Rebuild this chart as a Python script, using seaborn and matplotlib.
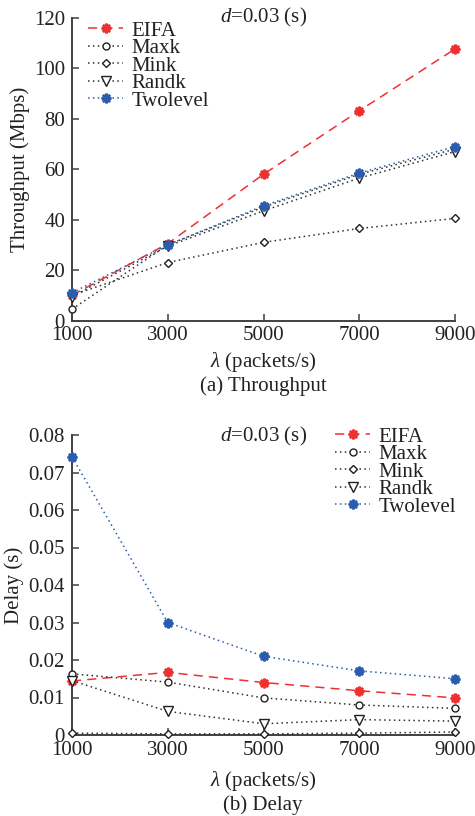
import matplotlib
matplotlib.use("Agg")
import matplotlib.pyplot as plt
import seaborn as sns
import pandas as pd

sns.set_theme(style="ticks")
plt.rcParams['font.family'] = ['Liberation Serif', 'DejaVu Serif']
plt.rcParams['mathtext.fontset'] = 'custom'
plt.rcParams['mathtext.rm'] = 'Liberation Serif'
plt.rcParams['mathtext.it'] = 'Liberation Serif:italic'

lam = [1000, 3000, 5000, 7000, 9000]
series = ["EIFA", "Maxk", "Mink", "Randk", "Twolevel"]

thr_eifa = [10, 30.5, 58, 83.2, 107.7]
thr_maxk = [4.5, 30, 45, 58, 68]
thr_mink = [10, 23, 31, 36.5, 40.5]
thr_randk = [9.5, 29.5, 43.5, 56.5, 67]
thr_twolevel = [11, 30, 45.5, 58.5, 69]

del_eifa = [0.0144, 0.0167, 0.0140, 0.0118, 0.0099]
del_maxk = [0.0163, 0.0141, 0.0099, 0.0080, 0.0071]
del_mink = [0.0005, 0.0003, 0.0003, 0.0005, 0.0008]
del_randk = [0.0145, 0.0063, 0.0030, 0.0041, 0.0037]
del_twolevel = [0.0742, 0.0300, 0.0210, 0.0171, 0.0150]

ast = (8, 2, 0)
styles = {
    "EIFA": dict(color="#f03030", ls=(0, (6, 4)), marker=ast, mfc="#f03030", mec="#f03030", ms=7, mew=1.8),
    "Maxk": dict(color="#303030", ls=(0, (1, 2.2)), marker="o", mfc="white", mec="#202020", ms=5, mew=1.0),
    "Mink": dict(color="#303030", ls=(0, (1, 2.2)), marker="D", mfc="white", mec="#202020", ms=4.5, mew=1.0),
    "Randk": dict(color="#303030", ls=(0, (1, 2.2)), marker="v", mfc="white", mec="#202020", ms=6.5, mew=1.0),
    "Twolevel": dict(color="#2a5db0", ls=(0, (1, 2.2)), marker=ast, mfc="#2a5db0", mec="#2a5db0", ms=7, mew=1.8),
}

thr = {"EIFA": thr_eifa, "Maxk": thr_maxk, "Mink": thr_mink, "Randk": thr_randk, "Twolevel": thr_twolevel}
dly = {"EIFA": del_eifa, "Maxk": del_maxk, "Mink": del_mink, "Randk": del_randk, "Twolevel": del_twolevel}

W, H = 475, 816
fig = plt.figure(figsize=(W / 100, H / 100), dpi=100)
ax1 = fig.add_axes([72 / W, 1 - 320.5 / H, 383 / W, 302.5 / H])
ax2 = fig.add_axes([72 / W, 1 - 735 / H, 383 / W, 300 / H])

FS = 15
axcol = "#404040"
tcol = "#222222"

def draw(ax, data, xlabpad):
    for name in series:
        st = styles[name]
        df = pd.DataFrame({"x": lam, "y": data[name]})
        sns.lineplot(data=df, x="x", y="y", ax=ax, label=name, color=st["color"],
                     linewidth=1.1, marker=st["marker"], markersize=st["ms"],
                     markerfacecolor=st["mfc"], markeredgecolor=st["mec"], markeredgewidth=st["mew"],
                     clip_on=False, zorder=3)
        ax.lines[-1].set_linestyle(st["ls"])
    ax.set_xlim(1000, 9000)
    ax.set_xticks(lam)
    ax.set_xticklabels([str(v) for v in lam])
    for s in ["top", "right"]:
        ax.spines[s].set_visible(False)
    for s in ["left", "bottom"]:
        ax.spines[s].set_color(axcol)
        ax.spines[s].set_linewidth(1.4)
    ax.tick_params(direction="in", length=5, width=1.1, color=axcol, labelsize=FS,
                   labelcolor=tcol)
    ax.tick_params(axis="y", pad=5)
    ax.tick_params(axis="x", pad=4.2)
    ax.set_xlabel(r"$\lambda$ (packets/s)", fontsize=FS, color=tcol, labelpad=xlabpad)
    ax.grid(False)

def legend(ax, x_px, y_px):
    leg = ax.legend(loc="upper left", bbox_to_anchor=(x_px / W, 1 - y_px / H),
                    bbox_transform=fig.transFigure, frameon=False, fontsize=FS,
                    handlelength=1.7, handletextpad=0.4, labelspacing=-0.1, borderaxespad=0,
                    borderpad=0)
    for t in leg.get_texts():
        t.set_color(tcol)
    return leg

draw(ax1, thr, 3.6)
ax1.set_ylim(0, 120)
ax1.set_yticks([0, 20, 40, 60, 80, 100, 120])
ax1.set_ylabel("Throughput (Mbps)", fontsize=FS, color=tcol, labelpad=3)
fig.text(220 / W, 1 - 17 / H, r"$d$=0.03 (s)", fontsize=FS, ha="left", va="center", color=tcol)
legend(ax1, 88, 21)

draw(ax2, dly, 6.5)
ax2.set_ylim(0, 0.08)
ax2.set_yticks([0, 0.01, 0.02, 0.03, 0.04, 0.05, 0.06, 0.07, 0.08])
ax2.set_yticklabels(["0", "0.01", "0.02", "0.03", "0.04", "0.05", "0.06", "0.07", "0.08"])
ax2.set_ylabel("Delay (s)", fontsize=FS, color=tcol, labelpad=3)
fig.text(220 / W, 1 - 436 / H, r"$d$=0.03 (s)", fontsize=FS, ha="left", va="center", color=tcol)
legend(ax2, 335, 427)

fig.text(263 / W, 1 - 386 / H, "(a) Throughput", fontsize=FS, ha="center", va="center", color=tcol)
fig.text(263 / W, 1 - 805 / H, "(b) Delay", fontsize=FS, ha="center", va="center", color=tcol)

fig.savefig("out.png", dpi=100)
